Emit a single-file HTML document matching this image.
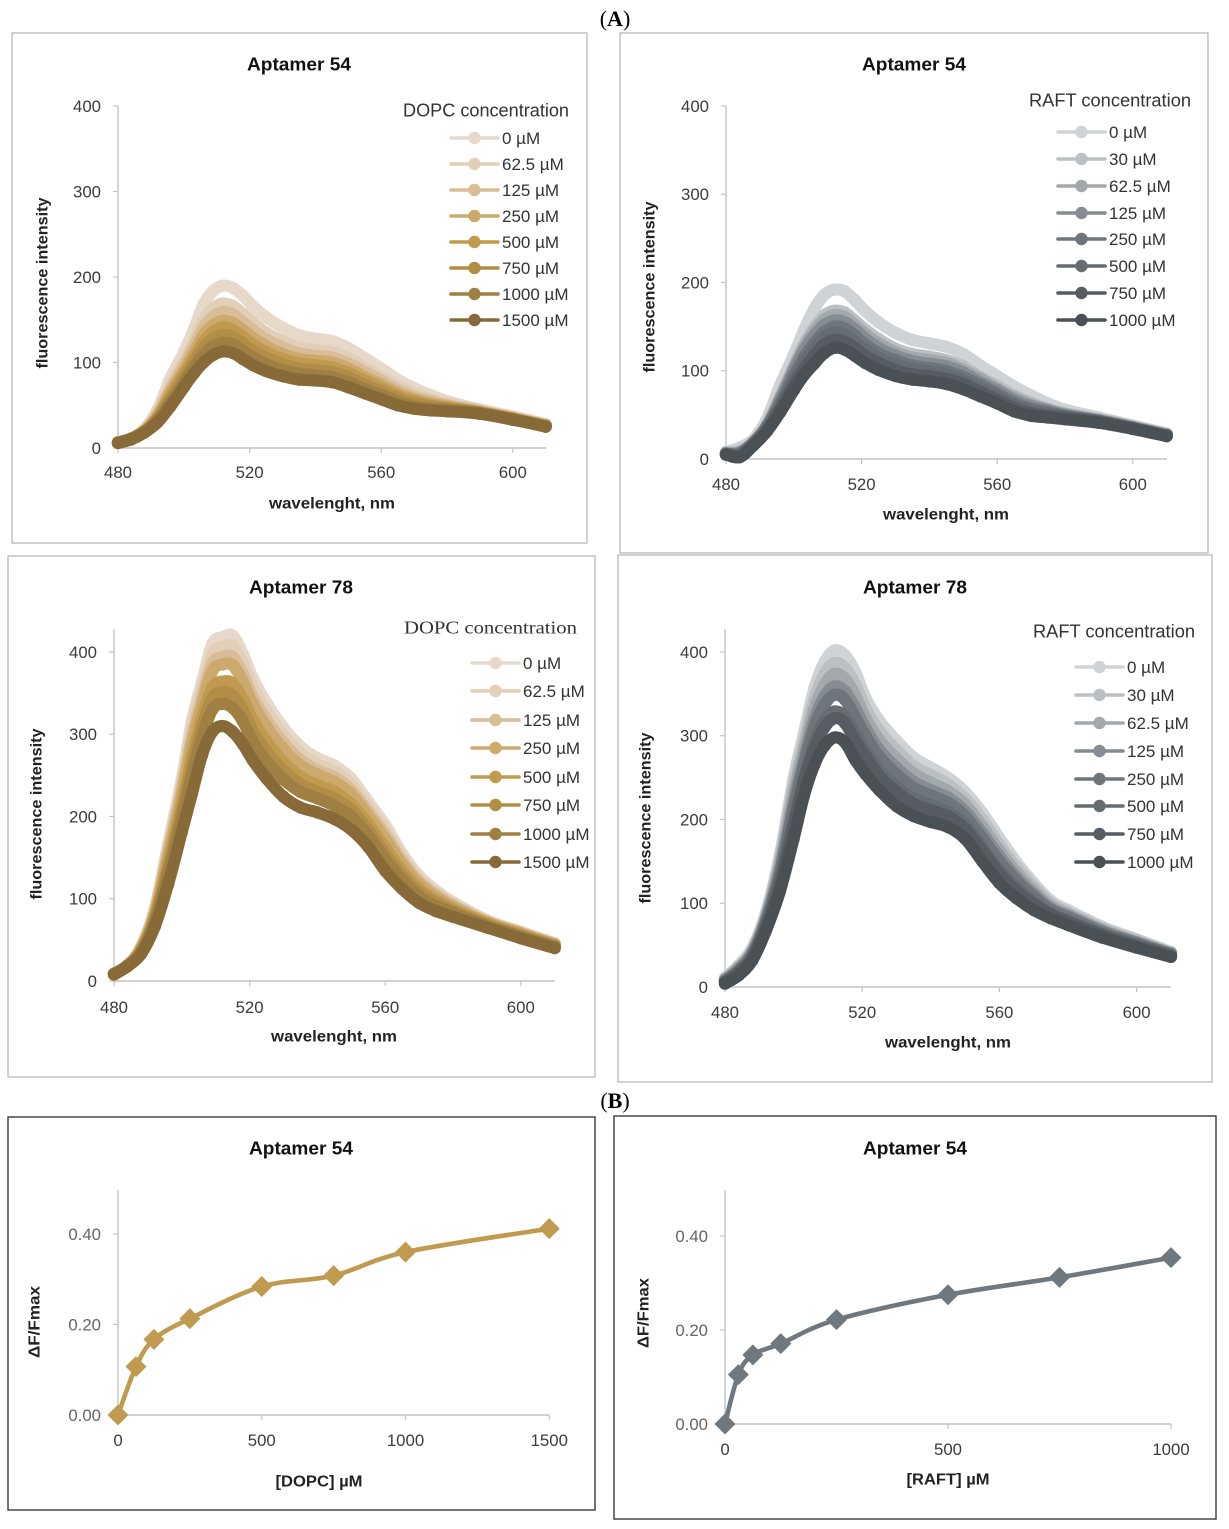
<!DOCTYPE html>
<html lang="en">
<head>
<meta charset="utf-8">
<title>Aptamer fluorescence charts</title>
<style>
html,body{margin:0;padding:0;background:#fff;}
svg{display:block;font-family:"Liberation Sans",sans-serif;}
</style>
</head>
<body>
<svg id="figure" xmlns="http://www.w3.org/2000/svg" width="1229" height="1529" viewBox="0 0 1229 1529"></svg>
<script>
// Shared wavelength samples (nm)
const wavelengths = [480,484,488,492,496,500,503,506,509,512,515,518,521,525,530,535,540,545,550,555,560,565,570,575,580,590,600,610];

// Series labels
const dopcLabels = ['0 µM','62.5 µM','125 µM','250 µM','500 µM','750 µM','1000 µM','1500 µM'];
const raftLabels = ['0 µM','30 µM','62.5 µM','125 µM','250 µM','500 µM','750 µM','1000 µM'];
const dopcColors = ['#e6d9c9','#e2cfb7','#d8bd98','#cca96c','#bf9a4f','#b18d47','#9f7f42','#876a37'];
const raftColors = ['#d0d3d5','#bcc0c3','#a3a8ab','#868c91','#6e767c','#656c72','#565c62','#4b5055'];

// Axis ticks
const wavelengthTicks = [480,520,560,600];
const spectrumTicksA = [0,100,200,300,400];
const ratioTicks = [0,0.2,0.4];
const dopcDoseTicks = [0,500,1000,1500];
const raftDoseTicks = [0,500,1000];

// Aptamer 54, DOPC
const d54s0 = [7,11,22,45,82,112,138,168,184,190,187,178,166,153,141,132,128,125,117,105,93,80,70,62,55,45,37,28];
const d54s1 = [7,11,21,41,73,101,124,150,164,169,166,157,147,135,125,118,115,112,105,94,83,72,64,57,52,44,36,27];
const d54s2 = [7,11,20,39,69,96,118,141,154,159,156,147,138,127,118,111,108,106,99,89,79,68,60,55,50,43,35,27];
const d54s3 = [6,11,20,37,65,90,111,132,144,149,146,138,129,119,110,104,102,100,93,83,74,64,57,52,49,42,35,26];
const d54s4 = [6,11,19,35,61,86,105,124,136,141,138,130,121,112,104,99,97,94,88,79,70,61,55,50,47,42,34,26];
const d54s5 = [6,11,19,34,57,81,100,117,128,132,130,122,114,106,98,93,91,89,83,74,66,58,52,49,46,41,34,26];
const d54s6 = [6,11,19,32,53,76,94,109,119,123,121,113,106,98,91,87,85,83,77,69,62,54,49,46,45,41,34,25];
const d54s7 = [6,10,18,30,49,71,87,100,109,113,111,104,97,90,84,80,79,77,71,64,57,50,46,44,43,40,33,25];

// Aptamer 54, RAFT
const r54s0 = [8,13,22,45,84,118,146,170,186,192,190,180,168,155,143,135,131,127,119,106,94,82,72,63,56,47,38,29];
const r54s1 = [7,9,19,38,71,106,130,149,163,168,166,157,147,136,125,119,116,112,105,93,83,72,64,57,52,45,37,28];
const r54s2 = [7,8,19,38,69,103,127,145,158,163,161,152,142,131,121,115,112,109,101,91,80,70,62,56,51,44,36,28];
const r54s3 = [6,7,18,37,67,101,123,140,152,157,155,147,137,126,117,111,108,105,98,87,78,67,60,55,50,44,36,27];
const r54s4 = [6,6,18,36,63,95,115,131,144,150,148,140,130,120,112,106,103,100,93,84,74,64,57,53,49,43,35,27];
const r54s5 = [6,5,17,35,60,90,109,125,138,143,141,133,124,115,107,102,99,96,89,80,71,61,55,51,48,43,35,27];
const r54s6 = [5,4,16,32,57,84,102,117,130,135,133,126,117,109,101,96,94,91,85,76,67,58,52,49,47,42,35,26];
const r54s7 = [5,2,15,31,53,78,95,108,120,126,124,117,109,101,94,90,88,85,79,71,63,54,49,47,45,41,34,26];

// Aptamer 78, DOPC
const d78s0 = [9,19,42,88,167,246,317,364,410,418,420,398,368,338,308,285,271,262,246,218,190,155,128,110,96,74,60,46];
const d78s1 = [9,19,41,86,162,239,307,354,398,406,407,386,357,328,299,277,264,255,239,212,184,150,124,107,94,73,59,45];
const d78s2 = [9,19,40,83,156,232,297,344,386,394,394,374,345,317,290,269,256,248,232,206,178,146,121,105,92,72,58,45];
const d78s3 = [9,19,39,81,152,226,289,336,377,385,384,364,336,309,282,262,251,242,227,201,173,142,118,102,90,71,58,44];
const d78s4 = [9,19,38,77,142,213,272,320,357,364,362,343,317,291,266,248,238,230,215,191,162,134,112,98,87,70,56,43];
const d78s5 = [8,18,36,74,137,206,262,309,344,351,347,330,304,279,256,239,230,222,208,184,155,128,108,95,85,68,55,42];
const d78s6 = [8,18,35,72,130,197,250,297,330,337,332,316,291,267,245,230,222,213,200,177,148,123,103,91,83,67,54,42];
const d78s7 = [8,18,33,66,118,181,228,275,303,310,303,288,268,246,224,211,205,197,184,163,134,112,95,85,78,65,52,40];

// Aptamer 78, RAFT
const r78s0 = [11,26,47,90,158,250,303,356,388,402,396,376,345,318,294,274,262,250,233,208,178,149,124,103,92,72,57,42];
const r78s1 = [10,24,45,87,152,240,292,343,374,387,381,361,333,306,283,264,253,242,225,200,170,143,120,100,89,70,56,41];
const r78s2 = [9,23,43,84,146,230,283,331,361,374,368,348,321,295,273,255,244,234,218,192,163,137,115,97,87,68,54,40];
const r78s3 = [8,21,41,81,140,220,272,319,347,359,353,333,309,283,262,245,235,226,210,184,156,131,111,94,85,67,53,40];
const r78s4 = [7,20,39,79,136,213,265,310,337,349,343,322,300,275,254,238,229,220,204,178,150,127,108,92,83,65,52,39];
const r78s5 = [6,18,37,75,127,199,250,292,318,329,323,303,283,259,239,225,217,209,194,167,140,119,102,88,79,63,50,38];
const r78s6 = [6,17,35,73,124,193,245,285,310,321,315,294,276,252,233,219,211,204,189,163,136,115,99,87,78,62,49,37];
const r78s7 = [4,14,32,68,114,177,228,265,288,298,292,271,254,235,216,204,197,191,177,150,124,106,92,82,74,59,47,36];

// Binding curves
const dopcDose = [0,62.5,125,250,500,750,1000,1500];
const dopcRatio = [0,0.107,0.167,0.213,0.284,0.308,0.36,0.412];
const raftDose = [0,30,62.5,125,250,500,750,1000];
const raftRatio = [0,0.105,0.147,0.171,0.222,0.275,0.312,0.354];

const NS = 'http://www.w3.org/2000/svg';
const fig = document.getElementById('figure');

function make(tag, parent, attrs) {
  const el = document.createElementNS(NS, tag);
  for (const k in attrs) el.setAttribute(k, attrs[k]);
  parent.appendChild(el);
  return el;
}
function label(parent, name, str, x, y, o) {
  const el = make('text', parent, {
    x: x, y: y + (o.size || 16) * 0.35,
    'font-size': o.size || 16,
    'text-anchor': o.anchor || 'middle',
    'font-weight': o.weight || 'normal',
    fill: o.fill || '#333'
  });
  
  
  if (o.family) el.setAttribute('font-family', o.family);
  if (o.len) { el.setAttribute('textLength', o.len); el.setAttribute('lengthAdjust', 'spacingAndGlyphs'); }
  if (o.rotate) el.setAttribute('transform', 'rotate(-90 ' + x + ' ' + y + ')');
  el.textContent = str;
  return el;
}
function smoothPath(pts) {
  let d = 'M' + pts[0][0].toFixed(1) + ' ' + pts[0][1].toFixed(1);
  for (let i = 0; i < pts.length - 1; i++) {
    const p0 = pts[i - 1] || pts[i], p1 = pts[i], p2 = pts[i + 1], p3 = pts[i + 2] || p2;
    const c1x = p1[0] + (p2[0] - p0[0]) / 6, c1y = p1[1] + (p2[1] - p0[1]) / 6;
    const c2x = p2[0] - (p3[0] - p1[0]) / 6, c2y = p2[1] - (p3[1] - p1[1]) / 6;
    d += 'C' + c1x.toFixed(1) + ' ' + c1y.toFixed(1) + ' ' + c2x.toFixed(1) + ' ' + c2y.toFixed(1) + ' ' + p2[0].toFixed(1) + ' ' + p2[1].toFixed(1);
  }
  return d;
}
function frame(g, box, color, width) {
  const r = make('rect', g, {x: box[0], y: box[1], width: box[2] - box[0], height: box[3] - box[1], fill: '#fff', stroke: color, 'stroke-width': width});
  
  
}
function axes(g, c, xScale, yScale, xTicks, yTicks, yFmt) {
  const axisColor = '#c4c4c4';
  const yAxis = make('line', g, {x1: c.x0, x2: c.x0, y1: c.yTop, y2: c.y0, stroke: axisColor, 'stroke-width': 1.4});
  
  
  const xAxis = make('line', g, {x1: c.x0, x2: c.xEnd, y1: c.y0, y2: c.y0, stroke: axisColor, 'stroke-width': 1.4});
  
  
  yTicks.forEach(function (t) {
    const tick = make('line', g, {x1: c.x0 - 5, x2: c.x0, y1: yScale(t), y2: yScale(t), stroke: axisColor, 'stroke-width': 1.2});
    
    
    label(g, 'y-tick-label', yFmt(t), c.x0 - 17, yScale(t), {size: 16.8, anchor: 'end', fill: c.yFill || '#3c3c3c'});
  });
  xTicks.forEach(function (t) {
    const tick = make('line', g, {x1: xScale(t), x2: xScale(t), y1: c.y0, y2: c.y0 + 5, stroke: axisColor, 'stroke-width': 1.2});
    
    
    label(g, 'x-tick-label', String(t), xScale(t), c.xLabelY, {size: 16.8, fill: '#3c3c3c'});
  });
}
function titles(g, c) {
  label(g, 'chart-title', c.title, c.titleX, c.titleY, {size: 18, weight: 'bold', fill: '#111', len: 104});
  label(g, 'x-axis-title', c.xTitle, c.xTitleX, c.xTitleY, {size: 16, weight: 'bold', fill: '#222', len: c.xTitleLen});
  label(g, 'y-axis-title', c.yTitle, c.yTitleX, c.yTitleY, {size: 16, weight: 'bold', fill: '#222', rotate: true, len: c.yTitleLen});
}
function spectrumChart(c, series, names, colors) {
  const g = make('g', fig, {});
  
  
  frame(g, c.box, '#b4b4b4', 1.2);
  const xScale = function (w) { return c.x0 + (w - 480) * c.xPerNm; };
  const yScale = function (v) { return c.y0 - v * c.yPerUnit; };
  axes(g, c, xScale, yScale, wavelengthTicks, spectrumTicksA, String);
  titles(g, c);
  series.forEach(function (vals, i) {
    const s = make('g', g, {});
    
    
    const pts = vals.map(function (v, j) { return [xScale(wavelengths[j]), yScale(v)]; });
    const line = make('path', s, {d: smoothPath(pts), fill: 'none', stroke: colors[i], 'stroke-width': 12, 'stroke-linecap': 'round', 'stroke-linejoin': 'round'});
    
    
    pts.forEach(function (p) {
      const dot = make('circle', s, {cx: p[0], cy: p[1], r: 6.2, fill: colors[i]});
      
      
    });
  });
  label(g, 'legend-title', c.legendTitle, c.legendTitleX, c.legendTitleY, {size: 18, anchor: 'start', fill: '#333', len: c.legendTitleLen, family: c.legendFamily});
  names.forEach(function (n, i) {
    const e = make('g', g, {});
    
    
    const y = c.legendY[i];
    const ln = make('line', e, {x1: c.legendX, x2: c.legendX + 47, y1: y, y2: y, stroke: colors[i], 'stroke-width': 3.6, 'stroke-linecap': 'round'});
    
    
    const mk = make('circle', e, {cx: c.legendX + 23.5, cy: y, r: 6.2, fill: colors[i]});
    
    
    label(e, 'legend-label', n, c.legendX + 51, y, {size: 17, anchor: 'start', fill: '#333'});
  });
}
function doseChart(c, xs, ys, xTicks, color) {
  const g = make('g', fig, {});
  
  
  frame(g, c.box, '#3a3a3a', 1.4);
  const xScale = function (v) { return c.x0 + v * c.xPerUnit; };
  const yScale = function (v) { return c.y0 - v * c.yPerUnit; };
  axes(g, c, xScale, yScale, xTicks, ratioTicks, function (t) { return t.toFixed(2); });
  titles(g, c);
  const pts = xs.map(function (v, i) { return [xScale(v), yScale(ys[i])]; });
  const line = make('path', g, {d: smoothPath(pts), fill: 'none', stroke: color, 'stroke-width': 4.6, 'stroke-linecap': 'round'});
  
  
  pts.forEach(function (p) {
    const s = 10.5;
    const d = make('polygon', g, {points: [p[0] - s, p[1], p[0], p[1] - s, p[0] + s, p[1], p[0], p[1] + s].join(' '), fill: color});
    
    
  });
}

spectrumChart({
  name: 'chart-aptamer-54-dopc', box: [12, 33, 587, 543],
  x0: 118, xEnd: 546, xPerNm: 3.29, y0: 448, yTop: 106, yPerUnit: 0.855, xLabelY: 472,
  title: 'Aptamer 54', titleX: 299, titleY: 64,
  xTitle: 'wavelenght, nm', xTitleX: 332, xTitleY: 503, xTitleLen: 126,
  yTitle: 'fluorescence intensity', yTitleX: 42, yTitleY: 283, yTitleLen: 171,
  legendTitle: 'DOPC concentration', legendTitleX: 403, legendTitleY: 110, legendTitleLen: 166,
  legendX: 451, legendY: [138, 164, 190, 216, 242, 268, 294, 320]
}, [d54s0, d54s1, d54s2, d54s3, d54s4, d54s5, d54s6, d54s7], dopcLabels, dopcColors);

spectrumChart({
  name: 'chart-aptamer-54-raft', box: [620, 33, 1208, 553],
  x0: 726, xEnd: 1167, xPerNm: 3.39, y0: 459, yTop: 106, yPerUnit: 0.8825, xLabelY: 484,
  title: 'Aptamer 54', titleX: 914, titleY: 64,
  xTitle: 'wavelenght, nm', xTitleX: 946, xTitleY: 514, xTitleLen: 126,
  yTitle: 'fluorescence intensity', yTitleX: 649, yTitleY: 287, yTitleLen: 171,
  legendTitle: 'RAFT concentration', legendTitleX: 1029, legendTitleY: 100, legendTitleLen: 162,
  legendX: 1058, legendY: [132, 159, 186, 213, 239, 266, 293, 320]
}, [r54s0, r54s1, r54s2, r54s3, r54s4, r54s5, r54s6, r54s7], raftLabels, raftColors);

spectrumChart({
  name: 'chart-aptamer-78-dopc', box: [8, 556, 595, 1077],
  x0: 114, xEnd: 555, xPerNm: 3.39, y0: 981, yTop: 629, yPerUnit: 0.8225, xLabelY: 1007,
  title: 'Aptamer 78', titleX: 301, titleY: 587,
  xTitle: 'wavelenght, nm', xTitleX: 334, xTitleY: 1036, xTitleLen: 126,
  yTitle: 'fluorescence intensity', yTitleX: 36, yTitleY: 814, yTitleLen: 171,
  legendTitle: 'DOPC concentration', legendTitleX: 404, legendTitleY: 627, legendTitleLen: 173,
  legendFamily: '"Liberation Serif",serif',
  legendX: 472, legendY: [663, 691, 720, 748, 777, 805, 834, 862]
}, [d78s0, d78s1, d78s2, d78s3, d78s4, d78s5, d78s6, d78s7], dopcLabels, dopcColors);

spectrumChart({
  name: 'chart-aptamer-78-raft', box: [618, 555, 1212, 1082],
  x0: 725, xEnd: 1171, xPerNm: 3.43, y0: 987, yTop: 629, yPerUnit: 0.8375, xLabelY: 1012,
  title: 'Aptamer 78', titleX: 915, titleY: 587,
  xTitle: 'wavelenght, nm', xTitleX: 948, xTitleY: 1042, xTitleLen: 126,
  yTitle: 'fluorescence intensity', yTitleX: 645, yTitleY: 818, yTitleLen: 171,
  legendTitle: 'RAFT concentration', legendTitleX: 1033, legendTitleY: 631, legendTitleLen: 162,
  legendX: 1076, legendY: [667, 695, 723, 751, 779, 806, 834, 862]
}, [r78s0, r78s1, r78s2, r78s3, r78s4, r78s5, r78s6, r78s7], raftLabels, raftColors);

doseChart({
  name: 'chart-binding-dopc', box: [8, 1117, 595, 1510],
  x0: 118, xEnd: 549, xPerUnit: 0.2875, y0: 1415, yTop: 1190, yPerUnit: 452.5, xLabelY: 1440, yFill: '#666',
  title: 'Aptamer 54', titleX: 301, titleY: 1148,
  xTitle: '[DOPC] µM', xTitleX: 319, xTitleY: 1481, xTitleLen: 87,
  yTitle: 'ΔF/Fmax', yTitleX: 34, yTitleY: 1322, yTitleLen: 72
}, dopcDose, dopcRatio, dopcDoseTicks, '#bf9a4f');

doseChart({
  name: 'chart-binding-raft', box: [614, 1116, 1216, 1519],
  x0: 725, xEnd: 1171, xPerUnit: 0.446, y0: 1424, yTop: 1190, yPerUnit: 470, xLabelY: 1449, yFill: '#666',
  title: 'Aptamer 54', titleX: 915, titleY: 1148,
  xTitle: '[RAFT] µM', xTitleX: 948, xTitleY: 1479, xTitleLen: 83,
  yTitle: 'ΔF/Fmax', yTitleX: 643, yTitleY: 1313, yTitleLen: 70
}, raftDose, raftRatio, raftDoseTicks, '#6f787e');

function panelLetter(name, letter, y) {
  const t = make('text', fig, {x: 615, y: y, 'text-anchor': 'middle', 'font-size': 22, fill: '#000', 'font-family': '"Liberation Serif",serif'});
  
  
  t.appendChild(document.createTextNode('('));
  const b = make('tspan', t, {'font-weight': 'bold'});
  b.textContent = letter;
  t.appendChild(document.createTextNode(')'));
}
panelLetter('panel-label-a', 'A', 26);
panelLetter('panel-label-b', 'B', 1108);
</script>
</body>
</html>
